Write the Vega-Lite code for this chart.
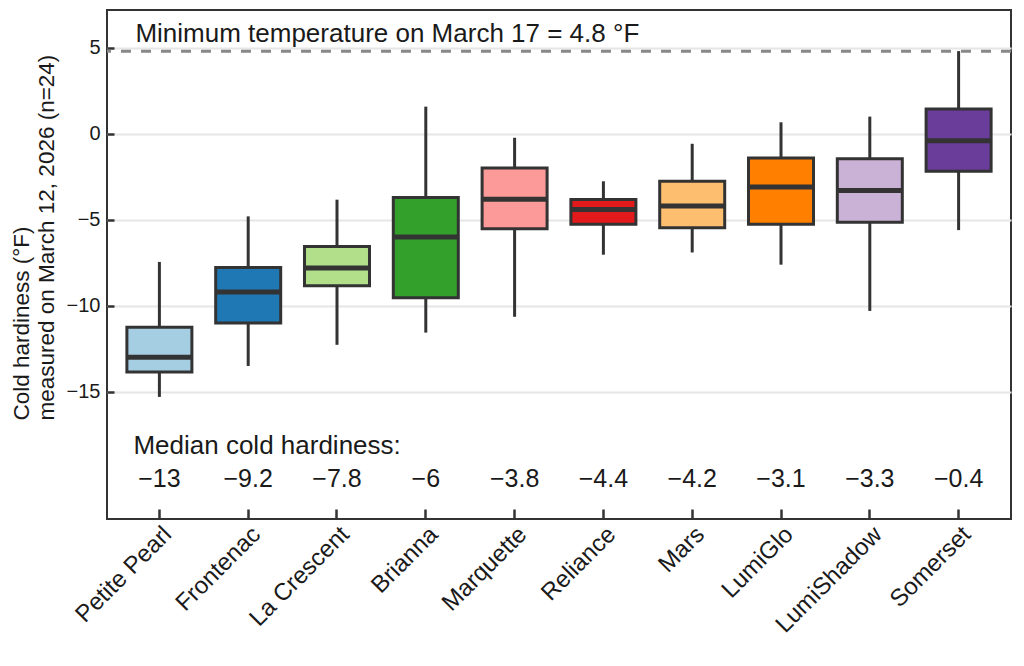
{
  "$schema": "https://vega.github.io/schema/vega-lite/v6.json",
  "width": 904,
  "height": 509,
  "autosize": {"type": "none"},
  "padding": {"left": 107, "top": 10, "right": 13, "bottom": 147},
  "background": "white",
  "config": {
    "font": "Liberation Sans",
    "view": {"stroke": "#333333", "strokeWidth": 2}
  },
  "data": {
    "values": [
      {"cultivar": "Petite Pearl", "min": -15.3, "q1": -13.85, "median": -13, "q3": -11.25, "max": -7.45},
      {"cultivar": "Frontenac", "min": -13.5, "q1": -11.0, "median": -9.2, "q3": -7.77, "max": -4.8},
      {"cultivar": "La Crescent", "min": -12.27, "q1": -8.83, "median": -7.8, "q3": -6.55, "max": -3.83},
      {"cultivar": "Brianna", "min": -11.56, "q1": -9.54, "median": -6, "q3": -3.7, "max": 1.58},
      {"cultivar": "Marquette", "min": -10.64, "q1": -5.52, "median": -3.8, "q3": -1.99, "max": -0.23},
      {"cultivar": "Reliance", "min": -7.03, "q1": -5.26, "median": -4.4, "q3": -3.82, "max": -2.76},
      {"cultivar": "Mars", "min": -6.9, "q1": -5.46, "median": -4.2, "q3": -2.76, "max": -0.58},
      {"cultivar": "LumiGlo", "min": -7.61, "q1": -5.26, "median": -3.1, "q3": -1.41, "max": 0.67},
      {"cultivar": "LumiShadow", "min": -10.3, "q1": -5.14, "median": -3.3, "q3": -1.45, "max": 1.0},
      {"cultivar": "Somerset", "min": -5.6, "q1": -2.18, "median": -0.4, "q3": 1.45, "max": 4.81}
    ]
  },
  "encoding": {
    "x": {
      "field": "cultivar",
      "type": "nominal",
      "sort": null,
      "scale": {"paddingInner": 0, "paddingOuter": 0.09},
      "axis": {
        "title": null,
        "domain": false,
        "labelAngle": -45,
        "labelFontSize": 24,
        "labelColor": "#1a1a1a",
        "labelPadding": 13,
        "labelOffset": 0,
        "tickSize": -10,
        "tickWidth": 2.5,
        "tickColor": "#333333"
      }
    }
  },
  "layer": [
    {
      "mark": {"type": "rule", "color": "#333333", "strokeWidth": 3},
      "encoding": {
        "y": {
          "field": "min",
          "type": "quantitative",
          "scale": {"domain": [-22.4, 7.2], "nice": false, "zero": false},
          "axis": {
            "title": ["Cold hardiness (°F)", "measured on March 12, 2026 (n=24)"],
            "titleFontSize": 22.5,
            "titleFontWeight": "normal",
            "titleColor": "#1a1a1a",
            "titleLineHeight": 25,
            "titleAlign": "left",
            "titleBaseline": "bottom",
            "titleAngle": -90,
            "titleX": -74,
            "titleY": 410,
            "domain": false,
            "values": [5, 0, -5, -10, -15],
            "labelFontSize": 20,
            "labelColor": "#1a1a1a",
            "labelPadding": 14,
            "tickSize": -7,
            "tickWidth": 2.5,
            "tickColor": "#333333",
            "grid": true,
            "gridColor": "#e6e6e6",
            "gridWidth": 2
          }
        },
        "y2": {"field": "max"}
      }
    },
    {
      "mark": {"type": "bar", "size": 65, "stroke": "#333333", "strokeWidth": 3},
      "encoding": {
        "y": {"field": "q1", "type": "quantitative"},
        "y2": {"field": "q3"},
        "color": {
          "field": "cultivar",
          "type": "nominal",
          "sort": null,
          "scale": {"range": ["#a6cee3", "#1f78b4", "#b2df8a", "#33a02c", "#fb9a99", "#e31a1c", "#fdbf6f", "#ff7f00", "#cab2d6", "#6a3d9a"]},
          "legend": null
        }
      }
    },
    {
      "mark": {"type": "tick", "color": "#333333", "size": 65, "thickness": 5, "opacity": 1},
      "encoding": {
        "y": {"field": "median", "type": "quantitative"}
      }
    },
    {
      "mark": {"type": "text", "fontSize": 25, "color": "#1a1a1a", "baseline": "alphabetic", "align": "center"},
      "encoding": {
        "y": {"datum": -20.53},
        "text": {"field": "median", "type": "quantitative", "format": "~g"}
      }
    },
    {
      "data": {"values": [{"temp": 4.8}]},
      "mark": {"type": "rule", "color": "#888888", "strokeWidth": 3, "strokeDash": [10, 10]},
      "encoding": {
        "x": null,
        "y": {"field": "temp", "type": "quantitative"}
      }
    },
    {
      "data": {"values": [{"note": "Minimum temperature on March 17 = 4.8 °F"}]},
      "mark": {"type": "text", "fontSize": 26, "color": "#1a1a1a", "align": "left", "baseline": "alphabetic", "dx": -24},
      "encoding": {
        "x": {"datum": "Petite Pearl"},
        "y": {"datum": 5.34},
        "text": {"field": "note"}
      }
    },
    {
      "data": {"values": [{"note": "Median cold hardiness:"}]},
      "mark": {"type": "text", "fontSize": 26, "color": "#1a1a1a", "align": "left", "baseline": "alphabetic", "dx": -26},
      "encoding": {
        "x": {"datum": "Petite Pearl"},
        "y": {"datum": -18.62},
        "text": {"field": "note"}
      }
    }
  ]
}
